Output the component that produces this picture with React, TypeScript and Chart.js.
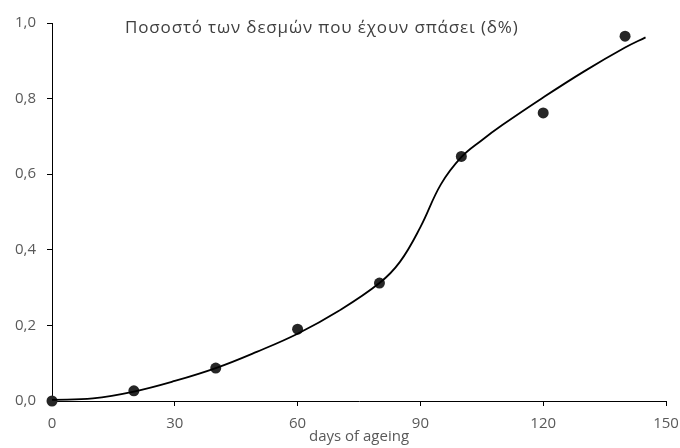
import React, { useEffect, useRef } from "react";
import { Chart, registerables } from "chart.js";

Chart.register(...registerables);

const daysMeasured = [0, 20, 40, 60, 80, 100, 120, 140];
const fractionBroken = [0, 0.027, 0.087, 0.19, 0.312, 0.647, 0.762, 0.965];

const fitDays = [0, 10, 20, 30, 40, 50, 60, 70, 80, 85, 90, 95, 100, 105, 110, 120, 130, 140, 145];
const fitValues = [0.003, 0.007, 0.025, 0.053, 0.087, 0.13, 0.178, 0.238, 0.312, 0.368, 0.46, 0.573, 0.645, 0.69, 0.73, 0.803, 0.872, 0.935, 0.962];

const chartTitle = "Ποσοστό των δεσμών που έχουν σπάσει (δ%)";
const xTitle = "days of ageing";

const FONT = "'Open Sans', sans-serif";
const TEXT = "#595959";

export default function App() {
  const ref = useRef<HTMLCanvasElement | null>(null);
  useEffect(() => {
    document.body.style.margin = "0";
    const ctx = ref.current!;
    const titlePlugin = {
      id: "innerTitle",
      afterDraw(chart: any) {
        const c = chart.ctx;
        const area = chart.chartArea;
        c.save();
        c.font = `17px ${FONT}`;
        (c as any).letterSpacing = "0.85px";
        c.fillStyle = "#404040";
        c.textAlign = "left";
        c.textBaseline = "middle";
        c.fillText(chartTitle, area.left + 73, area.top + 5);
        c.restore();
      },
    };
    const chart = new Chart(ctx, {
      type: "scatter",
      data: {
        datasets: [
          {
            label: "fit",
            data: fitDays.map((d, i) => ({ x: d, y: fitValues[i] })),
            showLine: true,
            borderColor: "#000",
            borderWidth: 1.8,
            pointRadius: 0,
            tension: 0.4,
            fill: false,
          },
          {
            label: "data",
            data: daysMeasured.map((d, i) => ({ x: d, y: fractionBroken[i] })),
            showLine: false,
            clip: false,
            pointRadius: 5.5,
            pointBackgroundColor: "#262626",
            pointBorderColor: "#262626",
            pointBorderWidth: 0,
          },
        ],
      },
      options: {
        animation: false,
        responsive: false,
        maintainAspectRatio: false,
        layout: { padding: { top: 23, right: 14, left: 0, bottom: 0 } },
        plugins: { legend: { display: false }, tooltip: { enabled: false } },
        scales: {
          x: {
            type: "linear",
            min: 0,
            max: 150,
            ticks: { stepSize: 30, color: TEXT, font: { family: FONT, size: 15 }, padding: 9 },
            grid: { display: true, drawOnChartArea: false, drawTicks: true, tickLength: 5, color: "#000" },
            border: { color: "#000", width: 1 },
            title: { display: true, text: xTitle, color: TEXT, font: { family: FONT, size: 15 }, padding: { top: 0, bottom: 2 } },
            afterFit(scale: any) {
              scale.height = 47;
              scale.paddingRight = 0;
              scale.paddingLeft = 0;
            },
          },
          y: {
            min: 0,
            max: 1,
            ticks: {
              stepSize: 0.2,
              color: TEXT,
              font: { family: FONT, size: 15 },
              padding: 11,
              callback: (v: any) => Number(v).toFixed(1).replace(".", ","),
            },
            grid: { display: true, drawOnChartArea: false, drawTicks: true, tickLength: 5, color: "#000" },
            border: { color: "#000", width: 1 },
            afterFit(scale: any) {
              scale.width = 52;
              scale.paddingTop = 0;
              scale.paddingBottom = 0;
            },
          },
        },
      },
      plugins: [titlePlugin],
    });
    return () => chart.destroy();
  }, []);
  return <canvas ref={ref} width={680} height={448} style={{ display: "block" }} />;
}
